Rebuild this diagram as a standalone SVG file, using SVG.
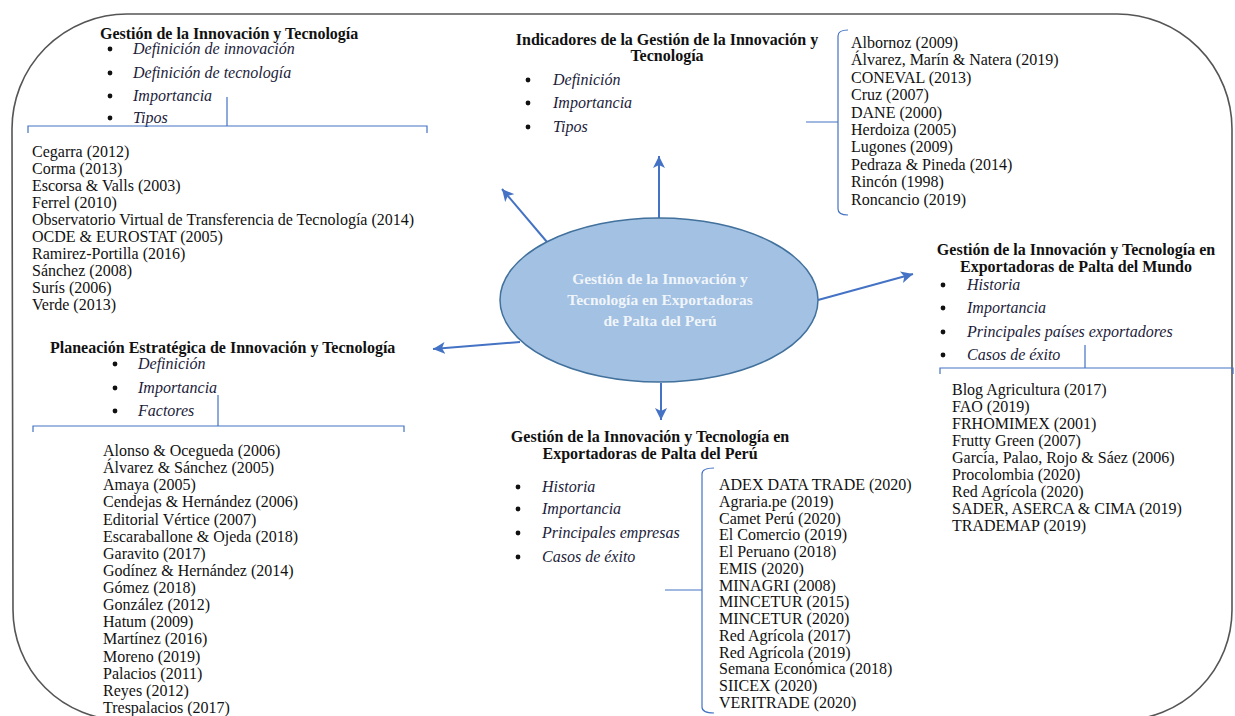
<svg xmlns="http://www.w3.org/2000/svg" width="1235" height="716" viewBox="0 0 1235 716">
<defs>
<style>
text{font-family:"Liberation Serif","Times New Roman",serif;font-size:16px;fill:#111;}
.t{font-weight:bold;}
.i{font-style:italic;fill:#1c1c3a;}
.b{text-anchor:middle;}
.dot{fill:#111;}
.br{fill:none;stroke:#4472C4;stroke-width:1.2;}
.ar{fill:none;stroke:#4472C4;stroke-width:2;}
.ct{fill:#ffffff;fill-opacity:0.85;font-weight:bold;font-size:15.5px;text-anchor:middle;}
</style>
<marker id="ah" markerUnits="userSpaceOnUse" markerWidth="14" markerHeight="12" refX="12" refY="6" orient="auto">
<path d="M0,0 L12,6 L0,12 L3,6 Z" fill="#4472C4"/>
</marker>
</defs>
<rect width="1235" height="716" fill="#ffffff"/>
<g id="frame">
<path d="M12,130 A115,115 0 0 1 127,14 H1117 A115,115 0 0 1 1232,129 V610 A110,110 0 0 1 1122,720 H123 A110,110 0 0 1 13,610 Z" fill="none" stroke="#555" stroke-width="1.6"/>
</g>
<g id="connectors">
<line class="ar" x1="547" y1="242" x2="502" y2="189" marker-end="url(#ah)"/>
<line class="ar" x1="659" y1="218" x2="659" y2="156" marker-end="url(#ah)"/>
<line class="ar" x1="818" y1="300" x2="913" y2="274" marker-end="url(#ah)"/>
<line class="ar" x1="520" y1="342" x2="433" y2="349" marker-end="url(#ah)"/>
<line class="ar" x1="661" y1="383" x2="661" y2="420" marker-end="url(#ah)"/>
</g>
<g id="center">
<ellipse cx="659" cy="300" rx="159" ry="82" fill="#A3C1E2" stroke="#41719C" stroke-width="1.5"/>
<text class="ct" x="660" y="284">Gestión de la Innovación y</text>
<text class="ct" x="660" y="305">Tecnología en Exportadoras</text>
<text class="ct" x="660" y="326">de Palta del Perú</text>
</g>
<g id="node-gestion">
<text class="t" x="100" y="39">Gestión de la Innovación y Tecnología</text>
<circle class="dot" cx="110" cy="49" r="2.4"/><text class="i" x="133" y="54">Definición de innovación</text>
<circle class="dot" cx="110" cy="73" r="2.4"/><text class="i" x="133" y="78">Definición de tecnología</text>
<circle class="dot" cx="110" cy="96" r="2.4"/><text class="i" x="133" y="101">Importancia</text>
<circle class="dot" cx="110" cy="118" r="2.4"/><text class="i" x="133" y="123">Tipos</text>
<path class="br" d="M28,133 V126 H427 V133 M227,126 V97"/>
<text x="32" y="157"><tspan x="32">Cegarra (2012)</tspan><tspan x="32" dy="17">Corma (2013)</tspan><tspan x="32" dy="17">Escorsa &amp; Valls (2003)</tspan><tspan x="32" dy="17">Ferrel (2010)</tspan><tspan x="32" dy="17">Observatorio Virtual de Transferencia de Tecnología (2014)</tspan><tspan x="32" dy="17">OCDE &amp; EUROSTAT (2005)</tspan><tspan x="32" dy="17">Ramirez-Portilla (2016)</tspan><tspan x="32" dy="17">Sánchez (2008)</tspan><tspan x="32" dy="17">Surís (2006)</tspan><tspan x="32" dy="17">Verde (2013)</tspan></text>
</g>
<g id="node-indicadores">
<text class="t b" x="667" y="45">Indicadores de la Gestión de la Innovación y</text>
<text class="t b" x="667" y="61">Tecnología</text>
<circle class="dot" cx="528" cy="80" r="2.4"/><text class="i" x="553" y="85">Definición</text>
<circle class="dot" cx="528" cy="103" r="2.4"/><text class="i" x="553" y="108">Importancia</text>
<circle class="dot" cx="528" cy="127" r="2.4"/><text class="i" x="553" y="132">Tipos</text>
<path class="br" d="M848,30 Q838,30 838,36 V209 Q838,215 848,215 M838,122 H806"/>
<text x="851" y="48"><tspan x="851">Albornoz (2009)</tspan><tspan x="851" dy="17.4">Álvarez, Marín &amp; Natera (2019)</tspan><tspan x="851" dy="17.4">CONEVAL (2013)</tspan><tspan x="851" dy="17.4">Cruz (2007)</tspan><tspan x="851" dy="17.4">DANE (2000)</tspan><tspan x="851" dy="17.4">Herdoiza (2005)</tspan><tspan x="851" dy="17.4">Lugones (2009)</tspan><tspan x="851" dy="17.4">Pedraza &amp; Pineda (2014)</tspan><tspan x="851" dy="17.4">Rincón (1998)</tspan><tspan x="851" dy="17.4">Roncancio (2019)</tspan></text>
</g>
<g id="node-mundo">
<text class="t b" x="1076" y="255">Gestión de la Innovación y Tecnología en</text>
<text class="t b" x="1076" y="272">Exportadoras de Palta del Mundo</text>
<circle class="dot" cx="943" cy="285" r="2.4"/><text class="i" x="967" y="290">Historia</text>
<circle class="dot" cx="943" cy="308" r="2.4"/><text class="i" x="967" y="313">Importancia</text>
<circle class="dot" cx="943" cy="332" r="2.4"/><text class="i" x="967" y="337">Principales países exportadores</text>
<circle class="dot" cx="943" cy="355" r="2.4"/><text class="i" x="967" y="360">Casos de éxito</text>
<path class="br" d="M940,374 V368 H1233 V374 M1085,368 V345"/>
<text x="952" y="395"><tspan x="952">Blog Agricultura (2017)</tspan><tspan x="952" dy="17">FAO (2019)</tspan><tspan x="952" dy="17">FRHOMIMEX (2001)</tspan><tspan x="952" dy="17">Frutty Green (2007)</tspan><tspan x="952" dy="17">García, Palao, Rojo &amp; Sáez (2006)</tspan><tspan x="952" dy="17">Procolombia (2020)</tspan><tspan x="952" dy="17">Red Agrícola (2020)</tspan><tspan x="952" dy="17">SADER, ASERCA &amp; CIMA (2019)</tspan><tspan x="952" dy="17">TRADEMAP (2019)</tspan></text>
</g>
<g id="node-planeacion">
<text class="t" x="50" y="353">Planeación Estratégica de Innovación y Tecnología</text>
<circle class="dot" cx="115" cy="364" r="2.4"/><text class="i" x="138" y="369">Definición</text>
<circle class="dot" cx="115" cy="388" r="2.4"/><text class="i" x="138" y="393">Importancia</text>
<circle class="dot" cx="115" cy="411" r="2.4"/><text class="i" x="138" y="416">Factores</text>
<path class="br" d="M33,432 V426 H404 V432 M218,426 V395"/>
<text x="103" y="456"><tspan x="103">Alonso &amp; Ocegueda (2006)</tspan><tspan x="103" dy="17.13">Álvarez &amp; Sánchez (2005)</tspan><tspan x="103" dy="17.13">Amaya (2005)</tspan><tspan x="103" dy="17.13">Cendejas &amp; Hernández (2006)</tspan><tspan x="103" dy="17.13">Editorial Vértice (2007)</tspan><tspan x="103" dy="17.13">Escaraballone &amp; Ojeda (2018)</tspan><tspan x="103" dy="17.13">Garavito (2017)</tspan><tspan x="103" dy="17.13">Godínez &amp; Hernández (2014)</tspan><tspan x="103" dy="17.13">Gómez (2018)</tspan><tspan x="103" dy="17.13">González (2012)</tspan><tspan x="103" dy="17.13">Hatum (2009)</tspan><tspan x="103" dy="17.13">Martínez (2016)</tspan><tspan x="103" dy="17.13">Moreno (2019)</tspan><tspan x="103" dy="17.13">Palacios (2011)</tspan><tspan x="103" dy="17.13">Reyes (2012)</tspan><tspan x="103" dy="17.13">Trespalacios (2017)</tspan></text>
</g>
<g id="node-peru">
<text class="t b" x="650" y="442">Gestión de la Innovación y Tecnología en</text>
<text class="t b" x="650" y="459">Exportadoras de Palta del Perú</text>
<circle class="dot" cx="518" cy="487" r="2.4"/><text class="i" x="542" y="492">Historia</text>
<circle class="dot" cx="518" cy="509" r="2.4"/><text class="i" x="542" y="514">Importancia</text>
<circle class="dot" cx="518" cy="533" r="2.4"/><text class="i" x="542" y="538">Principales empresas</text>
<circle class="dot" cx="518" cy="557" r="2.4"/><text class="i" x="542" y="562">Casos de éxito</text>
<path class="br" d="M714,468 Q702,468 702,474 V707 Q702,713 714,713 M702,590 H665"/>
<text x="719" y="490"><tspan x="719">ADEX DATA TRADE (2020)</tspan><tspan x="719" dy="16.77">Agraria.pe (2019)</tspan><tspan x="719" dy="16.77">Camet Perú (2020)</tspan><tspan x="719" dy="16.77">El Comercio (2019)</tspan><tspan x="719" dy="16.77">El Peruano (2018)</tspan><tspan x="719" dy="16.77">EMIS (2020)</tspan><tspan x="719" dy="16.77">MINAGRI (2008)</tspan><tspan x="719" dy="16.77">MINCETUR (2015)</tspan><tspan x="719" dy="16.77">MINCETUR (2020)</tspan><tspan x="719" dy="16.77">Red Agrícola (2017)</tspan><tspan x="719" dy="16.77">Red Agrícola (2019)</tspan><tspan x="719" dy="16.77">Semana Económica (2018)</tspan><tspan x="719" dy="16.77">SIICEX (2020)</tspan><tspan x="719" dy="16.77">VERITRADE (2020)</tspan></text>
</g>
</svg>
